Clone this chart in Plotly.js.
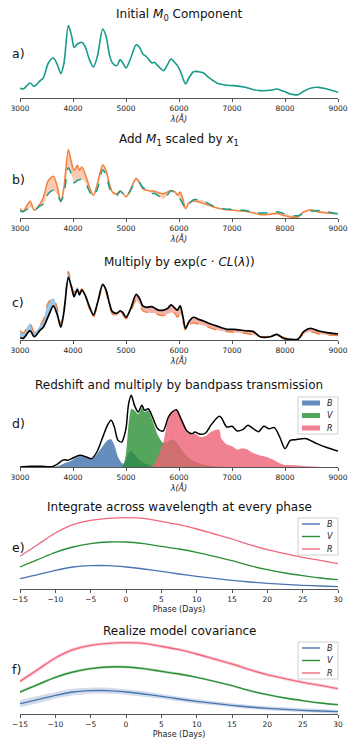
<!DOCTYPE html>
<html><head><meta charset="utf-8">
<script src="https://cdn.plot.ly/plotly-3.0.1.min.js"></script>
<style>html,body{margin:0;padding:0;background:#fff}#chart{width:357px;height:744px}</style>
</head><body><div id="chart"></div>
<script>
// ---------- data ----------
const lam = [3000,3060,3190,3270,3380,3440,3535,3630,3705,3770,3830,3913,3976,4020,4083,4120,4165,4228,4310,4385,4460,4561,4624,4687,4744,4826,4889,4940,5002,5090,5191,5254,5317,5392,5487,5531,5613,5707,5783,5852,5928,5970,6022,6072,6123,6186,6274,6368,6463,6557,6715,6904,7029,7250,7407,7533,7722,7848,7974,8100,8245,8352,8478,8635,8792,9000];
const m0 = [30,27,45,35,52,60,105,120,100,73,105,217,185,152,162,165,167,155,115,93,125,207,185,130,105,97,115,105,90,120,160,152,132,123,105,107,95,82,100,117,105,97,82,60,42,60,79,79,75,62,45,38,37,32,25,22,23,27,20,12,10,20,29,32,27,17];
const m0x1 = [40,30,72,33,62,88,162,180,134,69,134,295,234,205,227,205,220,191,134,98,148,230,205,148,112,105,116,108,91,126,170,155,126,119,116,116,109,105,112,119,112,98,112,83,40,65,73,69,62,55,43,36,33,29,22,14,16,19,11,4,4,26,36,26,22,19];
const colorCorr = [10,7,40,14,43,55,103,147,108,55,122,270,223,187,218,194,216,194,144,108,158,240,216,158,122,115,126,118,98,136,197,180,147,141,144,139,129,129,136,151,136,129,147,103,50,79,98,89,82,72,60,46,46,40,36,14,14,24,7,3,3,36,50,39,32,26];

const lamObs = [3000,3200,3400,3600,3700,3800,3850,3900,4000,4130,4250,4350,4450,4550,4650,4720,4780,4850,4920,4950,5000,5050,5100,5160,5230,5300,5350,5420,5500,5600,5700,5800,5870,5950,6050,6150,6250,6300,6400,6500,6600,6700,6760,6800,6900,7000,7100,7200,7300,7400,7500,7600,7700,7800,7900,8000,8100,8200,8400,8600,8800,9000];
const specObs = [0,2,2,1,8,20,22,20,27,35,30,25,45,85,125,140,120,80,75,85,115,190,215,185,165,185,170,175,150,115,108,150,165,172,140,108,100,105,98,102,125,145,152,148,120,122,108,112,125,115,106,122,115,118,90,55,80,82,85,70,58,48];
const fluxB = [0,0,0,0,2,8,12,14,22,33,28,23,38,60,80,83,65,30,12,10,20,42,48,38,25,15,11,7,3,0,0,0,0,0,0,0,0,0,0,0,0,0,0,0,0,0,0,0,0,0,0,0,0,0,0,0,0,0,0,0,0,0];
const fluxV = [0,0,0,0,0,0,0,0,0,0,0,0,0,0,0,0,0,0,0,5,40,130,175,170,158,178,165,170,140,95,72,76,83,75,52,32,20,16,10,6,4,2,1,1,0,0,0,0,0,0,0,0,0,0,0,0,0,0,0,0,0,0];
const fluxR = [0,0,0,0,0,0,0,0,0,0,0,0,0,0,0,0,0,0,0,0,0,0,0,0,0,0,0,0,2,30,72,145,165,172,140,106,97,100,90,92,105,112,112,85,68,62,52,56,52,42,36,32,27,20,11,6,6,5,2,1,0,0];

const phase = [-15,-12.5,-10,-7.5,-5,-2.5,0,2.5,5,7.5,10,12.5,15,17.5,20,22.5,25,27.5,30];
const lcB = [31,43,56,66,70,70,66,60,53,45,38,32,26,21,17,14,11,9,7];
const lcV = [66,88,110,126,136,141,141,136,128,120,110,98,85,70,58,48,40,33,28];
const lcR = [98,133,168,193,206,212,214,212,203,193,180,165,150,133,118,106,95,86,76];
const spreadB = [11,11,10,10,9,9,8,8,7,7,7,6,6,6,6,6,6,6,6];
const spreadV = [4,4,4,4,4,4,4,4,4,4,3,3,3,3,3,3,3,3,3];
const spreadR = [6,6,6,6,5,5,5,5,5,5,5,5,5,5,5,5,5,5,5];

const bandNames = ['B','V','R'];
const wlTicks = [3000,4000,5000,6000,7000,8000,9000];
const phaseTicks = [-15,-10,-5,0,5,10,15,20,25,30];
const panelTitles = ['Initial <i>M</i><sub>0</sub> Component',
  'Add <i>M</i><sub>1</sub> scaled by <i>x</i><sub>1</sub>',
  'Multiply by exp(<i>c</i> · <i>CL</i>(<i>λ</i>))',
  'Redshift and multiply by bandpass transmission',
  'Integrate across wavelength at every phase',
  'Realize model covariance'];
const panelLabels = ['a)','b)','c)','d)','e)','f)'];

// ---------- styling / layout ----------
const W = 357, H = 744;
const FONT = 'DejaVu Sans, sans-serif';
const teal = '#179c8a', orange = '#f0823f';
const bandLine = ['#4a74b0','#2a8f36','#f0687e'];
const bandFill = ['rgba(62,112,172,0.8)','rgba(42,142,52,0.8)','rgba(238,98,118,0.8)'];
const bandBand = ['rgba(74,116,176,0.25)','rgba(42,143,54,0.3)','rgba(240,104,126,0.3)'];

const bottoms = [98,218,340,467,589,714];
const plotH = 74;
const titleY = [15,140,262,385,507,631];
const labelY = [53,179,302,423,547,669];
const xDom = [20/W, 338/W];
const yRanges = [[0,222],[0,319],[0,319],[0,222],[0,222],[0,222]];

const layout = {width:W,height:H,margin:{l:0,r:0,t:0,b:0},paper_bgcolor:'#fff',plot_bgcolor:'rgba(0,0,0,0)',
  showlegend:false,font:{family:FONT,color:'#222'},annotations:[],shapes:[]};

for (let i=0;i<6;i++){
  const n = i===0?'':String(i+1);
  const isPhase = i>=4;
  layout['xaxis'+n] = {domain:xDom, anchor:'y'+n, range:isPhase?[-15,30]:[3000,9000],
    tickvals:isPhase?phaseTicks:wlTicks, showline:true, linecolor:'#555', linewidth:1,
    ticks:'outside', ticklen:3, tickcolor:'#555', tickfont:{size:7.5,family:FONT,color:'#222'},
    showgrid:false, zeroline:false,
    title:{text:isPhase?'Phase (Days)':'λ(Å)', font:{size:8,family:FONT,style:isPhase?'normal':'italic',color:'#222'}, standoff:3}};
  layout['yaxis'+n] = {domain:[1-bottoms[i]/H, 1-(bottoms[i]-plotH)/H], anchor:'x'+n, range:yRanges[i], visible:false, showgrid:false, zeroline:false};
  layout.annotations.push({text:panelTitles[i],xref:'paper',yref:'paper',x:179/W,y:1-titleY[i]/H,
    xanchor:'center',yanchor:'middle',showarrow:false,font:{size:12,family:FONT,color:'#111'}});
  layout.annotations.push({text:panelLabels[i],xref:'paper',yref:'paper',x:10/W,y:1-labelY[i]/H,
    xanchor:'left',yanchor:'middle',showarrow:false,font:{size:12.5,family:FONT,color:'#111'}});
}

// compact legends (panels d, e, f), drawn as shapes + text
const legends = [{top:397,kind:'patch',colors:bandFill},{top:518,kind:'line',colors:bandLine},{top:642,kind:'line',colors:bandLine}];
legends.forEach(lg=>{
  const px = v=>v/W, py = v=>1-v/H;
  layout.shapes.push({type:'rect',xref:'paper',yref:'paper',x0:px(298),x1:px(338),y0:py(lg.top),y1:py(lg.top+37),
    line:{color:'#d0d0d0',width:1},fillcolor:'rgba(255,255,255,0.85)',layer:'above'});
  bandNames.forEach((nm,k)=>{
    const cy = lg.top+6+k*12.5;
    if (lg.kind==='patch'){
      layout.shapes.push({type:'rect',xref:'paper',yref:'paper',x0:px(302),x1:px(320),y0:py(cy-2.5),y1:py(cy+2.5),
        line:{width:0},fillcolor:lg.colors[k],layer:'above'});
    } else {
      layout.shapes.push({type:'line',xref:'paper',yref:'paper',x0:px(302),x1:px(320),y0:py(cy),y1:py(cy),
        line:{color:lg.colors[k],width:1.4},layer:'above'});
    }
    layout.annotations.push({text:nm,xref:'paper',yref:'paper',x:px(325),y:py(cy),xanchor:'left',yanchor:'middle',
      showarrow:false,font:{size:8,family:FONT,style:'italic',color:'#222'}});
  });
});

const traces = [];
const hid = {mode:'lines',line:{width:0,shape:'spline',smoothing:0.8},showlegend:false,hoverinfo:'skip'};
const sp = (c,w,extra)=>Object.assign({color:c,width:w,shape:'spline',smoothing:0.8},extra||{});
// a
traces.push({x:lam,y:m0,xaxis:'x',yaxis:'y',mode:'lines',line:sp(teal,1.6)});
// b
traces.push(Object.assign({x:lam,y:m0,xaxis:'x2',yaxis:'y2'},hid));
traces.push({x:lam,y:m0x1,xaxis:'x2',yaxis:'y2',mode:'lines',fill:'tonexty',fillcolor:'rgba(245,160,115,0.55)',line:sp(orange,1.5)});
traces.push({x:lam,y:m0,xaxis:'x2',yaxis:'y2',mode:'lines',line:sp(teal,1.5,{dash:'dash'})});
// c
const lo = m0x1.map((v,k)=>Math.min(v,colorCorr[k]));
traces.push(Object.assign({x:lam,y:lo,xaxis:'x3',yaxis:'y3'},hid));
traces.push(Object.assign({x:lam,y:m0x1,xaxis:'x3',yaxis:'y3',fill:'tonexty',fillcolor:'rgba(120,180,225,0.75)'},hid));
traces.push(Object.assign({x:lam,y:lo,xaxis:'x3',yaxis:'y3'},hid));
traces.push(Object.assign({x:lam,y:colorCorr,xaxis:'x3',yaxis:'y3',fill:'tonexty',fillcolor:'rgba(232,128,108,0.6)'},hid));
traces.push({x:lam,y:m0x1,xaxis:'x3',yaxis:'y3',mode:'lines',line:sp(orange,1.4,{dash:'dash'})});
traces.push({x:lam,y:colorCorr,xaxis:'x3',yaxis:'y3',mode:'lines',line:sp('#000',1.7)});
// d
const fluxes = [fluxB,fluxV,fluxR];
for (let b=0;b<3;b++){
  traces.push({x:lamObs,y:fluxes[b],xaxis:'x4',yaxis:'y4',mode:'lines',fill:'tozeroy',fillcolor:bandFill[b],
    line:{width:0,color:bandFill[b],shape:'spline',smoothing:0.6},name:bandNames[b]});
}
traces.push({x:lamObs,y:specObs,xaxis:'x4',yaxis:'y4',mode:'lines',line:sp('#000',1.5)});
// e
const lcs = [lcB,lcV,lcR];
for (let b=0;b<3;b++){
  traces.push({x:phase,y:lcs[b],xaxis:'x5',yaxis:'y5',mode:'lines',line:sp(bandLine[b],1.3),name:bandNames[b]});
}
// f
const spreads = [spreadB,spreadV,spreadR];
for (let b=0;b<3;b++){
  const up = lcs[b].map((v,k)=>v+spreads[b][k]);
  const dn = lcs[b].map((v,k)=>v-spreads[b][k]);
  traces.push(Object.assign({x:phase,y:dn,xaxis:'x6',yaxis:'y6'},hid));
  traces.push(Object.assign({x:phase,y:up,xaxis:'x6',yaxis:'y6',fill:'tonexty',fillcolor:bandBand[b]},hid));
}
for (let b=0;b<3;b++){
  traces.push({x:phase,y:lcs[b],xaxis:'x6',yaxis:'y6',mode:'lines',line:sp(bandLine[b],1.4),name:bandNames[b]});
}

Plotly.newPlot('chart',traces,layout,{staticPlot:true,displayModeBar:false});
</script></body></html>
